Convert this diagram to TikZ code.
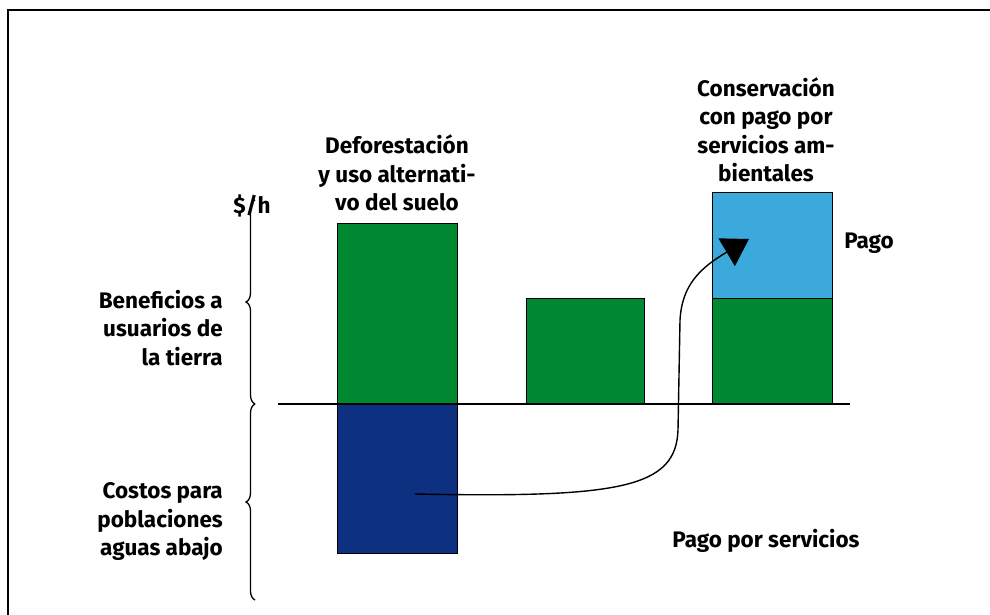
\documentclass[tikz,border=0pt]{standalone}
\usepackage{fontspec}
\setmainfont{Fira Sans}
\usepackage{xcolor}
\usepackage{tikz}
\usetikzlibrary{arrows.meta,decorations.pathreplacing}

\definecolor{bosque}{RGB}{0,136,51}
\definecolor{costo}{RGB}{13,48,128}
\definecolor{pago}{RGB}{59,169,220}

\tikzset{
  bar/.style={draw=black,line width=1.3pt,anchor=south west,inner sep=0pt},
  label/.style={font=\fontsize{22.5}{28.5}\selectfont\bfseries,inner sep=0pt,align=center},
  llave/.style={decorate,decoration={brace,amplitude=9pt},line width=1.3pt}
}

\begin{document}
\begin{tikzpicture}[x=1pt,y=-1pt]
                    \useasboundingbox (0,0) rectangle (990,615);
                    \fill[white] (0,0) rectangle (990,615);
                    \draw[line width=2.8pt] (8,615) -- (8,10) -- (990,10);

                    \node[bar,fill=bosque,minimum width=120pt,minimum height=180pt] (defben) at (337,404) {};
                    \node[bar,fill=costo,minimum width=120pt,minimum height=149pt,anchor=north west] (defcost) at (337,404) {};
                    \node[bar,fill=bosque,minimum width=118pt,minimum height=105pt] (conben) at (526,404) {};
                    \node[bar,fill=bosque,minimum width=120pt,minimum height=105pt] (psaben) at (712,404) {};
                    \node[bar,fill=pago,minimum width=120pt,minimum height=106pt,anchor=south west] (psapago) at (712,299) {};

                    \draw[line width=2.5pt] (278,404) -- (850,404);

                    \draw[llave] (255,404) -- (255,200);
                    \draw[llave] (255,600) -- (255,404);

                    \node[label] (unidad) at (252,206) {\$/h};
                    \node[label,align=right,anchor=east] (benef) at (223,328) {Beneficios a\\usuarios de\\la tierra};
                    \node[label,align=right,anchor=east] (costos) at (223,522) {Costos para\\poblaciones\\aguas abajo};
                    \node[label] (defor) at (397,173) {Deforestación\\y uso alternati-\\vo del suelo};
                    \node[label] (conser) at (766,130) {Conservación\\con pago por\\servicios am-\\bientales};
                    \node[label] (pagotxt) at (869,243) {Pago};
                    \node[label] (psatxt) at (766,541) {Pago por servicios};

                    \coordinate (cost) at (415,494);
                    \coordinate (pay) at (749,239);
                    \draw[line width=1.4pt,-{Triangle[length=26pt,width=32pt]}] (cost) .. controls (620,498) and (676,488) .. (678,430) -- (680,320) .. controls (682,285) and (700,268) .. (pay);

                \end{tikzpicture}
\end{document}
